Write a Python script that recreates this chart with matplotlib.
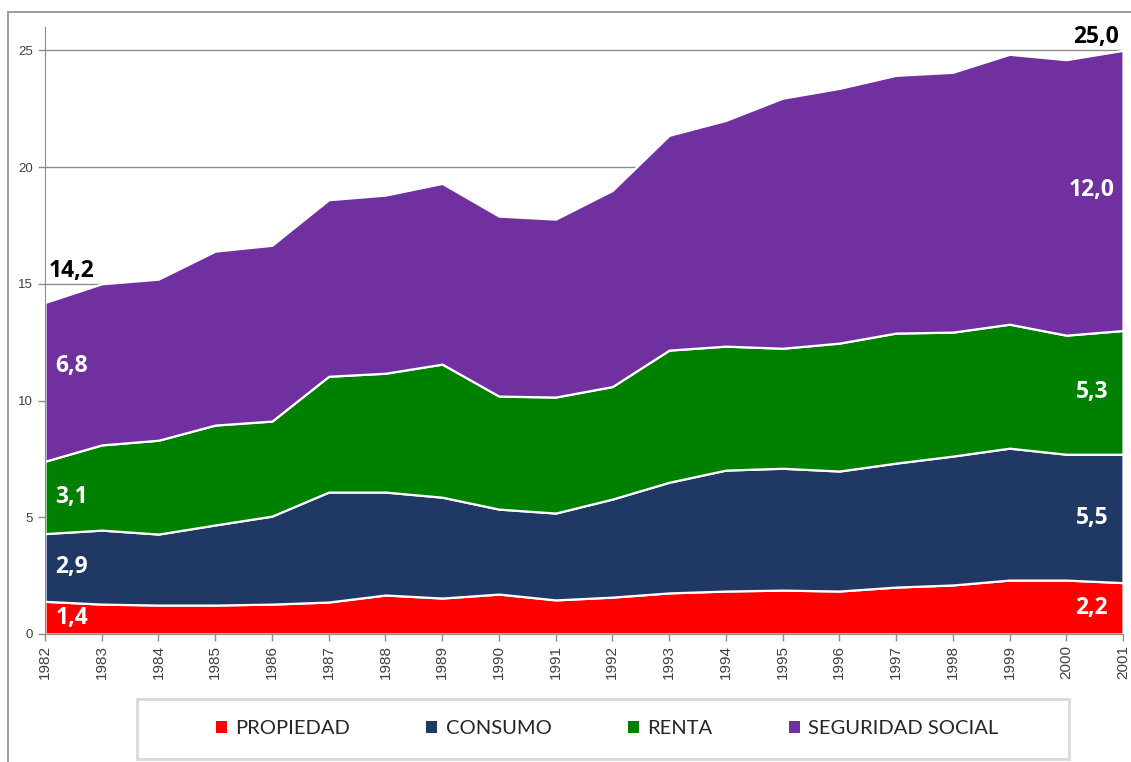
import matplotlib
matplotlib.use("Agg")
import matplotlib.pyplot as plt
from matplotlib.patches import Patch, Rectangle
import numpy as np

# Presión fiscal por componentes (% PIB), 1982-2001
years = list(range(1982, 2002))
propiedad = [1.4, 1.28, 1.24, 1.24, 1.28, 1.37, 1.67, 1.54, 1.71, 1.46,
             1.58, 1.76, 1.84, 1.88, 1.84, 2.01, 2.1, 2.31, 2.31, 2.2]
consumo = [2.9, 3.17, 3.04, 3.43, 3.77, 4.71, 4.41, 4.32, 3.64, 3.72,
           4.2, 4.74, 5.18, 5.22, 5.14, 5.31, 5.52, 5.65, 5.39, 5.5]
renta = [3.1, 3.65, 4.02, 4.28, 4.07, 4.96, 5.09, 5.7, 4.84, 4.97,
         4.82, 5.66, 5.31, 5.14, 5.48, 5.57, 5.31, 5.31, 5.1, 5.3]
seg_social = [6.8, 6.9, 6.9, 7.45, 7.53, 7.56, 7.63, 7.74, 7.71, 7.62,
              8.4, 9.2, 9.67, 10.71, 10.91, 11.04, 11.13, 11.56, 11.8, 12.0]
labels = ["PROPIEDAD", "CONSUMO", "RENTA", "SEGURIDAD SOCIAL"]
colors = ["#FF0000", "#203864", "#008000", "#7030A0"]

series = [propiedad, consumo, renta, seg_social]


def fmt(v):
    return f"{v:.1f}".replace(".", ",")


fig = plt.figure(figsize=(11.31, 7.62), dpi=100)
ax = fig.add_axes([45 / 1131, 128 / 762, 1078 / 1131, 607 / 762])

ax.stackplot(years, *series, colors=colors, edgecolor="white",
             linewidth=1.6, zorder=2)

ax.set_xlim(1982, 2001)
ax.set_ylim(0, 26)
ax.set_yticks(range(0, 26, 5))
ax.set_xticks(years)
ax.set_xticklabels([str(y) for y in years], rotation=90,
                   fontfamily="Liberation Sans", fontsize=11, color="#404040")
ax.set_yticklabels([str(v) for v in range(0, 26, 5)],
                   fontfamily="Liberation Sans", fontsize=9.5, color="#404040")
ax.yaxis.grid(True, color="#8c8c8c", linewidth=1)
ax.set_axisbelow(True)
for s in ["top", "right"]:
    ax.spines[s].set_visible(False)
for s in ["left", "bottom"]:
    ax.spines[s].set_color("#8c8c8c")
ax.tick_params(axis="both", color="#8c8c8c", length=5, width=1)
ax.tick_params(axis="x", pad=3)

# data labels at the start and the end of each layer
stack = np.cumsum(np.array(series), axis=0)
bottoms = stack - np.array(series)
lab_font = dict(fontfamily="Open Sans", fontweight="bold", fontsize=16.5)
for i, s in enumerate(series):
    y0 = bottoms[i, 0] + s[0] / 2
    y1 = bottoms[i, -1] + s[-1] / 2
    if i == 3:
        y0 += 0.7
    ax.text(years[0] + 0.47, y0, fmt(s[0]), color="white",
            ha="center", va="center", zorder=5, **lab_font)
    ax.text(years[-1] - 0.55, y1, fmt(s[-1]), color="white",
            ha="center", va="center", zorder=5, **lab_font)

total = stack[-1]
ax.text(years[0] + 0.47, total[0] + 0.85, fmt(total[0]), color="black",
        ha="center", va="bottom", zorder=5, **lab_font)
ax.text(years[-1] - 0.47, total[-1] + 0.05, fmt(total[-1]), color="black",
        ha="center", va="bottom", zorder=5, clip_on=False, **lab_font)

# outer chart frame
fig.patches.append(Rectangle((8 / 1131, -0.05), 1.2, 1 - 12 / 762 + 0.05,
                             transform=fig.transFigure, fill=False,
                             edgecolor="#8c8c8c", linewidth=1.2))
# legend box
fig.patches.append(Rectangle((137 / 1131, 3 / 762), 932 / 1131, 60 / 762,
                             transform=fig.transFigure, fill=False,
                             edgecolor="#d9d9d9", linewidth=2))

handles = [Patch(facecolor=c, edgecolor="none") for c in colors]
leg = fig.legend(handles, labels, loc="center", ncol=4,
                 bbox_to_anchor=(607 / 1131, 33 / 762),
                 frameon=False, handlelength=0.55, handleheight=0.55,
                 handletextpad=0.4, columnspacing=3.8,
                 prop={"family": "Lato", "size": 14.5})
for t in leg.get_texts():
    t.set_color("#262626")

fig.savefig("out.png", dpi=100)
